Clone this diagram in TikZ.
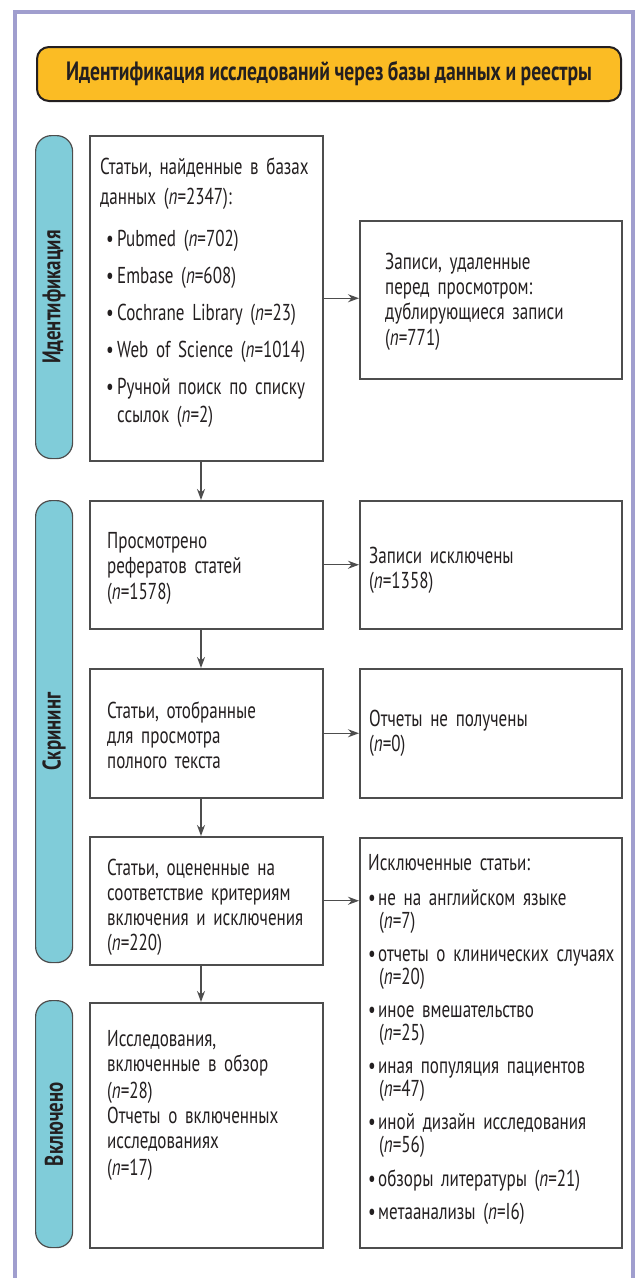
\documentclass[tikz,border=0pt]{standalone}
\usepackage{fontspec}
\setmainfont{PT Sans}[FakeStretch=0.74]
\usetikzlibrary{arrows.meta,calc}
\definecolor{frameL}{RGB}{160,158,206}
\definecolor{bannerY}{RGB}{251,188,36}
\definecolor{sideT}{RGB}{128,204,217}
\definecolor{boxG}{RGB}{77,77,77}
\definecolor{txtC}{RGB}{35,31,32}
\newcommand{\nn}{\textit{n}}
\newcommand{\bl}{\hspace*{6pt}\makebox[11pt][l]{•}}
\newcommand{\bi}{\hspace*{17pt}}
\newcommand{\br}{\makebox[10pt][l]{•}}
\newcommand{\bri}{\hspace*{11pt}}
\newcommand{\wsp}[1]{\spaceskip=#1pt\relax}
\begin{document}
\begin{tikzpicture}[x=1pt,y=-1pt,
  flowbox/.style={draw=boxG, line width=1.5pt, fill=white, inner sep=0pt, anchor=north west},
  sidebar/.style={draw=boxG, fill=sideT, line width=1.2pt, rounded corners=16pt, inner sep=0pt, anchor=north west, minimum width=37pt},
  sidelabel/.style={rotate=90, font=\fontsize{25.5}{28}\selectfont\bfseries, text=txtC, inner sep=0pt},
  txt/.style={anchor=base west, align=left, text width=280pt, inner sep=0pt, text=txtC, font=\fontsize{23}{25}\selectfont\wsp{4}},
  arr/.style={draw=boxG, line width=1.4pt, -{Stealth[length=11pt,width=8pt]}}]
\useasboundingbox (0,0) rectangle (637,1278);
% outer frame
\draw[frameL, line width=4pt] (15,1280) -- (15,12) -- (633,12) -- (633,1280);
% banner
\node[draw=txtC, line width=2pt, fill=bannerY, rounded corners=12pt, minimum width=584pt, minimum height=54pt, inner sep=0pt, text=txtC, font=\fontsize{26.5}{29}\selectfont\bfseries\wsp{4.5}] (banner) at (329,74) {Идентификация исследований через базы данных и реестры};
% side bars
\node[sidebar, minimum height=323pt] (s1) at (35,135) {};
\node[sidebar, minimum height=462pt] (s2) at (35,500) {};
\node[sidebar, minimum height=247pt] (s3) at (35,1000) {};
\node[sidelabel] (l1) at (s1.center) {Идентификация};
\node[sidelabel] (l2) at (s2.center) {Скрининг};
\node[sidelabel] (l3) at (s3.center) {Включено};
% left boxes
\node[flowbox, minimum width=233pt, minimum height=325pt] (b1) at (89,135) {};
\node[flowbox, minimum width=233pt, minimum height=128pt] (b2) at (89,500) {};
\node[flowbox, minimum width=233pt, minimum height=129pt] (b3) at (89,668) {};
\node[flowbox, minimum width=233pt, minimum height=128pt] (b4) at (89,836) {};
\node[flowbox, minimum width=233pt, minimum height=245pt] (b5) at (89,1002) {};
% right boxes
\node[flowbox, minimum width=262pt, minimum height=158pt] (r1) at (359,220) {};
\node[flowbox, minimum width=262pt, minimum height=128pt] (r2) at (359,500) {};
\node[flowbox, minimum width=262pt, minimum height=129pt] (r3) at (359,668) {};
\node[flowbox, minimum width=262pt, minimum height=410pt] (r4) at (359,837) {};
% texts
\node[txt, font=\fontsize{23}{30}\selectfont\wsp{4}] (t1) at (100,174) {Статьи, найденные в базах\\данных (\nn=2347):\\[12pt]
\bl Pubmed (\nn=702)\\[7pt]
\bl Embase (\nn=608)\\[7pt]
\bl Cochrane Library (\nn=23)\\[7pt]
\bl Web of Science (\nn=1014)\\[7pt]
\bl Ручной поиск по списку\\[-2pt]
\bi ссылок (\nn=2)};
\node[txt] (t2) at (107,548) {Просмотрено\\рефератов статей\\[1pt](\nn=1578)};
\node[txt] (t3) at (107,718) {Статьи, отобранные\\для просмотра\\полного текста};
\node[txt] (t4) at (107,875) {Статьи, оцененные на\\соответствие критериям\\включения и исключения\\(\nn=220)};
\node[txt] (t5) at (107,1046) {Исследования,\\включенные в обзор\\[2pt](\nn=28)\\Отчеты о включенных\\исследованиях\\[2pt](\nn=17)};
\node[txt] (tr1) at (385,269) {Записи, удаленные\\перед\hspace{8pt}просмотром:\\дублирующиеся записи\\[1pt](\nn=771)};
\node[txt] (tr2) at (369,563) {Записи исключены\\(\nn=1358)};
\node[txt] (tr3) at (369,726) {Отчеты не получены\\(\nn=0)};
\node[txt, font=\fontsize{23}{23}\selectfont\wsp{4}] (tr4) at (368,870) {Исключенные статьи:\\[12pt]
\br не на английском языке\\\bri(\nn=7)\\[10pt]
\br отчеты о клинических случаях\\\bri(\nn=20)\\[10pt]
\br иное вмешательство\\\bri(\nn=25)\\[10pt]
\br иная популяция пациентов\\\bri(\nn=47)\\[10pt]
\br иной дизайн исследования\\\bri(\nn=56)\\[11pt]
\br обзоры литературы (\nn=21)\\[10pt]
\br метаанализы (\nn=I6)};
% connectors
\coordinate (ax) at (201,0);
\draw[arr] (b1.south -| ax) -- (b2.north -| ax);
\draw[arr] (b2.south -| ax) -- (b3.north -| ax);
\draw[arr] (b3.south -| ax) -- (b4.north -| ax);
\draw[arr] (b4.south -| ax) -- (b5.north -| ax);
\draw[arr] (b1.east) -- (r1.west |- b1.east);
\draw[arr] (b2.east) -- (r2.west |- b2.east);
\draw[arr] (b3.east) -- (r3.west |- b3.east);
\draw[arr] (b4.east) -- (r4.west |- b4.east);
\end{tikzpicture}
\end{document}
